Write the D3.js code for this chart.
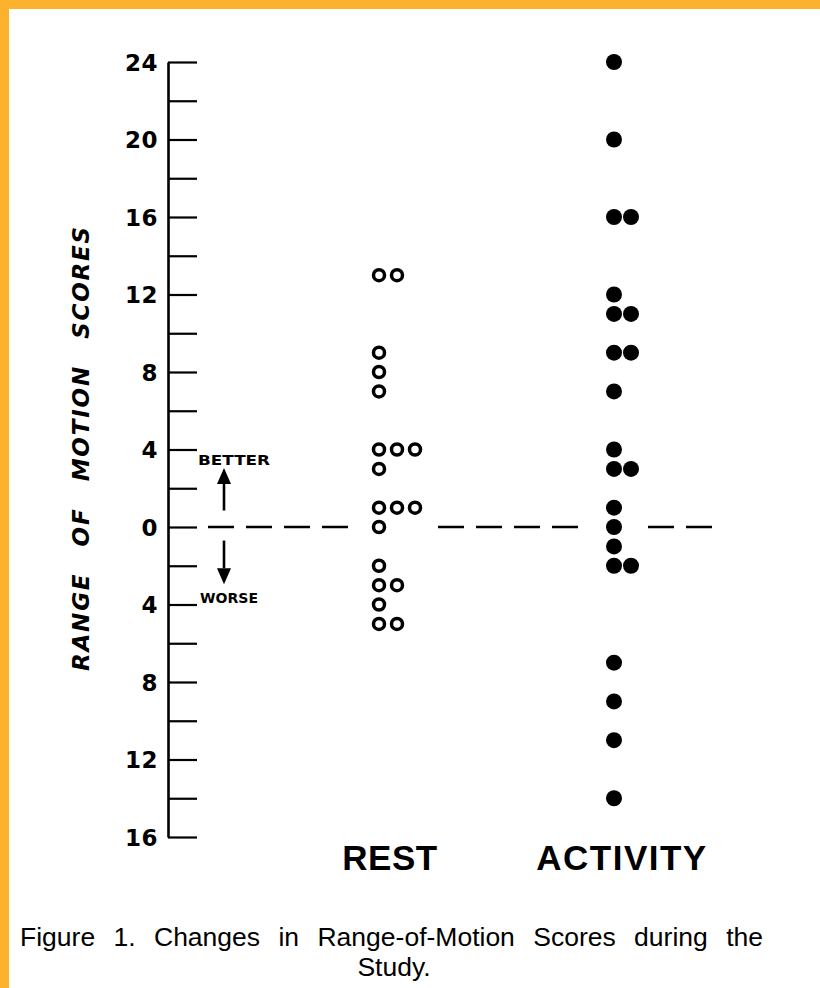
<!DOCTYPE html>
<html>
<head>
<meta charset="utf-8">
<script src="https://cdn.jsdelivr.net/npm/d3@7"></script>
<style>
  html, body { margin: 0; padding: 0; background: #fff; }
  svg { display: block; }
</style>
</head>
<body>
<svg id="chart" width="820" height="988"></svg>
<script>
// ---- data ----
const categories = ["REST", "ACTIVITY"];
const restValues = [13, 13, 9, 8, 7, 4, 4, 4, 3, 1, 1, 1, 0, -2, -3, -3, -4, -5, -5];
const activityValues = [24, 20, 16, 16, 12, 11, 11, 9, 9, 7, 4, 3, 3, 1, 0, -1, -2, -2, -7, -9, -11, -14];
const tickValues = [-16, -14, -12, -10, -8, -6, -4, -2, 0, 2, 4, 6, 8, 10, 12, 14, 16, 18, 20, 22, 24];
const yTitle = "RANGE OF MOTION SCORES";
const captionLines = ["Figure 1. Changes in Range-of-Motion Scores during the", "Study."];

// ---- setup ----
const svg = d3.select("#chart");
const W = 820, H = 988;

// border (orange frame on top & left)
svg.append("rect").attr("x", 0).attr("y", 0).attr("width", W).attr("height", H).attr("fill", "#FDB22E");
svg.append("rect").attr("x", 9).attr("y", 9).attr("width", W - 9).attr("height", H - 9).attr("fill", "#fff");

const axisX = 168;
const y = d3.scaleLinear().domain([-16, 24]).range([837, 62]);
const x = d3.scalePoint().domain(categories).range([390, 622]);

// axis
const axis = d3.axisLeft(y)
  .tickValues(tickValues)
  .tickSize(-29)
  .tickSizeOuter(0)
  .tickPadding(10)
  .tickFormat(d => (d % 4 === 0 ? String(Math.abs(d)) : ""));

const gAxis = svg.append("g").attr("transform", `translate(${axisX},0)`).call(axis);
gAxis.attr("font-size", null).attr("font-family", null);
gAxis.select(".domain").attr("stroke", "#000").attr("stroke-width", 2.6);
gAxis.selectAll(".tick line").attr("stroke", "#000").attr("stroke-width", 2.2);
gAxis.selectAll(".tick text")
  .attr("fill", "#000")
  .style("font-family", "'DejaVu Sans', sans-serif")
  .style("font-weight", "bold")
  .style("font-size", "23px")
  .style("letter-spacing", "0.5px")
  .attr("dy", "0.36em");

// y title with wide word gaps
const titleEl = svg.append("text")
  .attr("transform", `translate(89, 448) rotate(-90)`)
  .attr("text-anchor", "middle")
  .style("font-family", "'DejaVu Sans', sans-serif")
  .style("font-weight", "bold")
  .style("font-style", "italic")
  .style("font-size", "23px")
  .style("letter-spacing", "1.8px")
  .attr("fill", "#000")
  .text(yTitle);
{
  const len = titleEl.node().getComputedTextLength();
  const spaces = yTitle.split(" ").length - 1;
  titleEl.style("word-spacing", Math.max(0, (446 - len) / spaces) + "px");
}

// dashed zero line, broken around the data columns
const y0 = y(0);
const dashSegs = [[208, 348], [438, 578], [648, 713]];
svg.append("g").selectAll("line").data(dashSegs).join("line")
  .attr("x1", d => d[0]).attr("x2", d => d[1])
  .attr("y1", y0).attr("y2", y0)
  .attr("stroke", "#000").attr("stroke-width", 2.4)
  .attr("stroke-dasharray", "26,12");

// better / worse annotations
const arrowX = 224;
function arrow(fromV, toV) {
  const ys = y(fromV), ye = y(toV);
  const dir = Math.sign(ye - ys);
  const headLen = 16, headW = 7;
  svg.append("line").attr("x1", arrowX).attr("x2", arrowX)
    .attr("y1", ys).attr("y2", ye - dir * headLen)
    .attr("stroke", "#000").attr("stroke-width", 2.6);
  svg.append("path")
    .attr("d", `M${arrowX - headW},${ye - dir * headLen} L${arrowX + headW},${ye - dir * headLen} L${arrowX},${ye} Z`)
    .attr("fill", "#000");
}
arrow(0.85, 3.05);
arrow(-0.7, -2.95);

svg.append("text").attr("x", 198).attr("y", 465)
  .style("font-family", "'DejaVu Sans', sans-serif").style("font-weight", "bold")
  .style("font-size", "14px").attr("textLength", 72).attr("lengthAdjust", "spacingAndGlyphs")
  .attr("fill", "#000").text("BETTER");
svg.append("text").attr("x", 200).attr("y", 603)
  .style("font-family", "'DejaVu Sans', sans-serif").style("font-weight", "bold")
  .style("font-size", "14px").attr("textLength", 58).attr("lengthAdjust", "spacingAndGlyphs")
  .attr("fill", "#000").text("WORSE");

// dots
function stack(values) {
  const seen = {};
  return values.map(v => {
    const k = seen[v] || 0;
    seen[v] = k + 1;
    return { v, k };
  });
}

svg.append("g").selectAll("circle").data(stack(restValues)).join("circle")
  .attr("cx", d => x("REST") - 11 + d.k * 18)
  .attr("cy", d => y(d.v))
  .attr("r", 5.5)
  .attr("fill", "#fff")
  .attr("stroke", "#000")
  .attr("stroke-width", 3.5);

svg.append("g").selectAll("circle").data(stack(activityValues)).join("circle")
  .attr("cx", d => x("ACTIVITY") - 8 + d.k * 17)
  .attr("cy", d => y(d.v))
  .attr("r", 8)
  .attr("fill", "#000");

// category labels
svg.append("g").selectAll("text").data(categories).join("text")
  .attr("x", d => x(d))
  .attr("y", 870)
  .attr("text-anchor", "middle")
  .style("font-family", "'Liberation Sans', Arial, sans-serif")
  .style("font-weight", "bold")
  .style("font-size", "35px")
  .style("letter-spacing", d => d === "ACTIVITY" ? "1.5px" : "0.5px")
  .attr("fill", "#000")
  .text(d => d);

// caption (justified via word spacing)
const cap1 = svg.append("text").attr("x", 20).attr("y", 946)
  .style("font-family", "'Liberation Sans', Arial, sans-serif")
  .style("font-size", "26.5px")
  .attr("fill", "#000").text(captionLines[0]);
{
  const len = cap1.node().getComputedTextLength();
  const spaces = captionLines[0].split(" ").length - 1;
  cap1.style("word-spacing", Math.max(0, (743 - len) / spaces) + "px");
}
svg.append("text").attr("x", 394).attr("y", 976)
  .attr("text-anchor", "middle")
  .style("font-family", "'Liberation Sans', Arial, sans-serif")
  .style("font-size", "26.5px")
  .attr("fill", "#000").text(captionLines[1]);
</script>
</body>
</html>
